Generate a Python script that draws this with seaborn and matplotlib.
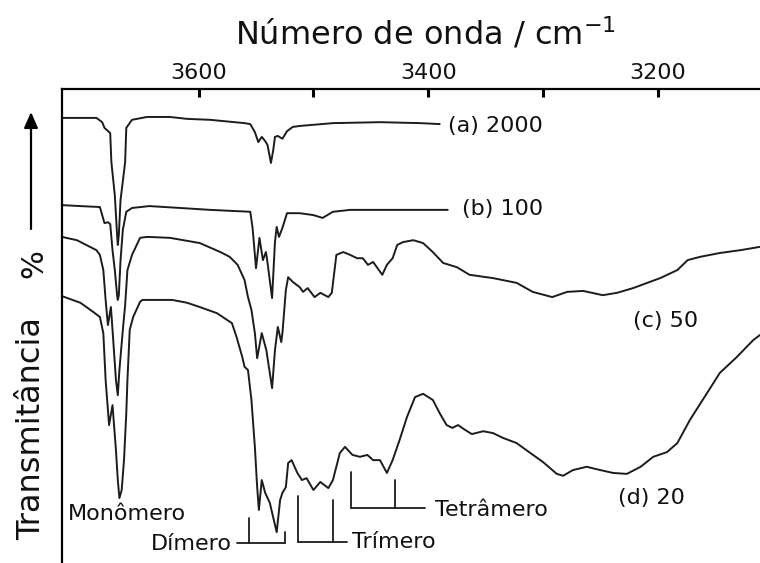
import matplotlib
matplotlib.use("Agg")
import matplotlib.pyplot as plt
import seaborn as sns
import pandas as pd

# ---------------- data ----------------
wn_a = [3719, 3703, 3689, 3684, 3682, 3677, 3676, 3673, 3671, 3670.4,
        3669.5, 3668, 3664, 3663, 3658, 3645, 3625, 3610, 3590, 3560,
        3555, 3551, 3548, 3545, 3542, 3540, 3537, 3535, 3533.5, 3531,
        3527, 3523, 3518, 3512, 3483, 3442, 3407, 3390]
T_a = [93.9, 93.9, 93.9, 93.0, 91.8, 90.7, 84.6, 77.6, 69.2, 67.1,
       69.2, 76.6, 84.6, 91.8, 93.5, 94.1, 94.1, 93.7, 93.5, 92.8,
       92.6, 90.9, 88.8, 89.9, 89.0, 88.2, 84.4, 87.1, 89.9, 90.1,
       89.5, 91.1, 92.0, 92.2, 92.8, 93.0, 92.8, 92.6]

wn_b = [3719, 3703, 3686, 3682, 3679, 3677, 3675, 3673, 3671, 3670.4,
        3669.5, 3668, 3666, 3663, 3658, 3643, 3616, 3590, 3555, 3553,
        3550, 3547, 3544, 3541.4, 3540.5, 3536, 3533.5, 3532, 3530, 3527,
        3523, 3512, 3500, 3492, 3483, 3468, 3407, 3383]
T_b = [75.5, 75.3, 75.1, 71.7, 71.9, 71.5, 66.0, 61.8, 56.5, 55.5,
       56.5, 63.9, 70.3, 74.1, 74.9, 75.3, 74.9, 74.5, 74.1, 70.7,
       62.2, 68.6, 63.9, 65.6, 64.3, 55.9, 67.7, 70.9, 68.8, 70.7,
       73.8, 73.8, 73.4, 72.8, 74.1, 74.5, 74.5, 74.5]

wn_c = [3719, 3706, 3689, 3686, 3683, 3681, 3679, 3676.4, 3675, 3672,
        3670.4, 3669, 3666, 3664, 3662, 3658, 3651, 3645, 3625, 3599,
        3581, 3573, 3566, 3560, 3557, 3554, 3551, 3549, 3545, 3541,
        3536, 3533.5, 3531, 3528, 3527, 3524, 3522, 3518, 3512, 3509,
        3505, 3499, 3494, 3487, 3484, 3480, 3474, 3468, 3462, 3457,
        3452.5, 3448, 3440, 3436, 3431, 3427, 3422, 3413, 3404.5, 3396,
        3387, 3375, 3364, 3343.5, 3323, 3309, 3292, 3279, 3265, 3248,
        3235.5, 3221.5, 3198, 3183, 3174, 3163, 3146, 3128, 3111]
T_c = [68.8, 68.1, 66.0, 65.0, 61.8, 55.5, 50.2, 54.0, 49.2, 38.6,
       35.4, 40.7, 49.2, 54.4, 61.8, 65.0, 68.6, 68.8, 68.6, 67.5,
       65.6, 64.6, 62.9, 59.7, 56.1, 53.4, 48.5, 43.2, 48.5, 44.9,
       36.9, 44.9, 49.8, 46.6, 48.5, 57.6, 60.3, 59.3, 58.2, 57.2,
       58.0, 56.1, 57.0, 56.1, 57.0, 65.0, 65.6, 65.0, 64.3, 64.3,
       62.9, 63.5, 60.8, 62.9, 64.3, 67.1, 67.7, 68.1, 67.5, 65.6,
       63.3, 62.4, 60.8, 60.1, 59.1, 57.2, 56.1, 57.2, 57.4, 56.5,
       57.0, 58.0, 60.1, 61.8, 63.9, 64.6, 65.4, 66.0, 66.7]

wn_d = [3719, 3703, 3692, 3686, 3683, 3681, 3678, 3675, 3672, 3670.4,
        3669, 3667, 3665, 3663, 3662, 3660, 3657, 3651, 3649, 3623,
        3610, 3599, 3584, 3571, 3567, 3562, 3560, 3557, 3554, 3551,
        3549, 3547.5, 3545, 3542, 3538, 3532, 3529, 3527, 3524, 3522,
        3519, 3514, 3510, 3506, 3500, 3494, 3487, 3483, 3477, 3472.5,
        3466, 3459.5, 3453, 3448, 3442, 3436, 3431, 3425, 3418.5, 3411.5,
        3404.5, 3396, 3390, 3384, 3379, 3374, 3368, 3362, 3352, 3343.5,
        3335, 3323, 3311, 3300, 3288, 3282.5, 3274, 3262, 3250, 3239,
        3227, 3215, 3204, 3192, 3183, 3172, 3157, 3146, 3131, 3117, 3111]
T_d = [56.3, 54.9, 53.0, 51.9, 48.5, 38.6, 29.1, 33.3, 23.8, 17.5,
       13.7, 15.4, 21.7, 31.6, 38.6, 49.2, 51.9, 55.1, 55.5, 55.5,
       54.9, 54.0, 52.7, 50.6, 47.7, 43.5, 41.4, 40.7, 34.4, 24.5,
       16.0, 11.2, 17.5, 14.8, 12.7, 6.5, 13.3, 14.8, 16.0, 21.1,
       21.7, 19.0, 17.5, 17.9, 15.4, 17.1, 15.8, 17.5, 23.2, 24.5,
       22.8, 22.4, 22.8, 21.7, 21.7, 19.0, 21.7, 25.9, 30.8, 35.0,
       35.7, 34.4, 31.6, 29.1, 28.5, 29.1, 28.1, 27.2, 27.8, 27.4,
       26.4, 25.3, 23.2, 21.3, 18.8, 18.4, 19.6, 20.3, 19.6, 19.0,
       18.8, 20.3, 22.4, 23.4, 25.3, 30.2, 35.9, 40.1, 43.5, 47.0, 48.1]

series_labels = ["(a) 2000", "(b) 100", "(c) 50", "(d) 20"]
label_wn = [3383, 3371, 3222, 3235]
label_T = [90.9, 73.4, 49.8, 12.4]

major_ticks = [3600, 3400, 3200]
minor_ticks = [3500, 3300]

# band assignment brackets
dimer_wn = [3556, 3525];   dimer_top = [9.5, 6.5];    dimer_bar = 4.2;  dimer_span = [3567, 3525]
trimer_wn = [3513, 3483];  trimer_top = [14.1, 13.3]; trimer_bar = 4.4; trimer_span = [3513, 3471]
tetra_wn = [3467, 3429];   tetra_top = [19.2, 17.5];  tetra_bar = 11.6; tetra_span = [3467, 3403]

# ---------------- figure ----------------
sns.set_theme(style="white")
plt.rcParams["font.family"] = ["DejaVu Sans"]
plt.rcParams["mathtext.default"] = "regular"

W, H = 760, 563
fig = plt.figure(figsize=(W / 100, H / 100), dpi=100)
ax = fig.add_axes([62 / W, 0.0, (W - 62) / W, (H - 89) / H])

line_col = "#1c1c1c"
for wn, T in [(wn_a, T_a), (wn_b, T_b), (wn_c, T_c), (wn_d, T_d)]:
    df = pd.DataFrame({"wn": wn, "T": T})
    sns.lineplot(data=df, x="wn", y="T", ax=ax, color=line_col, lw=1.4,
                 sort=False, estimator=None)

ax.set_xlim(3719, 3111)
ax.set_ylim(0, 100)
ax.set_xlabel("")
ax.set_ylabel("")
ax.set_yticks([])

ax.xaxis.tick_top()
ax.set_xticks(major_ticks)
ax.set_xticks(minor_ticks, minor=True)
ax.tick_params(axis="x", which="both", direction="in", top=True, bottom=False,
               length=6, width=2.2, color="black", pad=4)
ax.tick_params(axis="x", which="major", labelsize=16, labelcolor="#111")

for s in ["right", "bottom"]:
    ax.spines[s].set_visible(False)
for s in ["top", "left"]:
    ax.spines[s].set_visible(True)
    ax.spines[s].set_linewidth(1.6)
    ax.spines[s].set_color("black")

# series labels
for lab, x, y in zip(series_labels, label_wn, label_T):
    ax.text(x, y, lab, fontsize=16, ha="left", va="baseline", color="#111")

# brackets
kw = dict(color=line_col, lw=1.3)
for wns, tops, bar, span in [(dimer_wn, dimer_top, dimer_bar, dimer_span),
                             (trimer_wn, trimer_top, trimer_bar, trimer_span),
                             (tetra_wn, tetra_top, tetra_bar, tetra_span)]:
    for w, t in zip(wns, tops):
        ax.plot([w, w], [t, bar], **kw)
    ax.plot(span, [bar, bar], **kw)

ax.text(3714, 9.1, "Monômero", fontsize=16, ha="left", va="baseline", color="#111")
ax.text(3571, 2.7, "Dímero", fontsize=16, ha="right", va="baseline", color="#111")
ax.text(3466, 3.2, "Trímero", fontsize=16, ha="left", va="baseline", color="#111")
ax.text(3394, 9.9, "Tetrâmero", fontsize=16, ha="left", va="baseline", color="#111")

# axis titles
fig.text(426 / W, 1 - 45 / H, "Número de onda / cm$^{-1}$", fontsize=23,
         ha="center", va="baseline", color="#111")
fig.text(40 / W, 1 - 540 / H, "Transmitância", fontsize=23, rotation=90,
         rotation_mode="anchor", ha="left", va="baseline", color="#111")
fig.text(42 / W, 1 - 278 / H, "%", fontsize=22, rotation=90,
         rotation_mode="anchor", ha="left", va="baseline", color="#111")
ax.annotate("", xy=(31 / W, 1 - 112 / H), xytext=(31 / W, 1 - 229 / H),
            xycoords="figure fraction", textcoords="figure fraction",
            arrowprops=dict(arrowstyle="-|>,head_length=0.5,head_width=0.22",
                            mutation_scale=19, lw=1.6, color="black",
                            shrinkA=0, shrinkB=0))

fig.savefig("out.png", dpi=100)
